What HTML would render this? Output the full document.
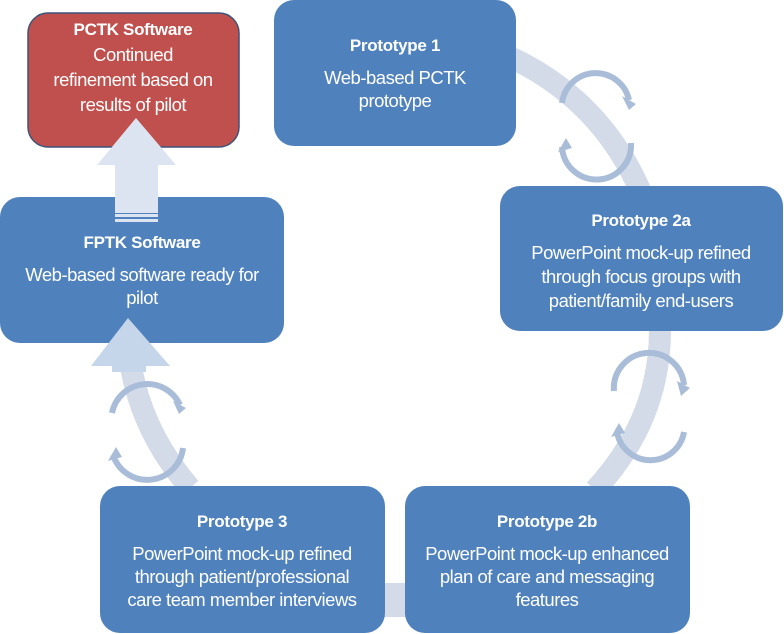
<!DOCTYPE html>
<html><head><style>
html,body{margin:0;padding:0;background:#fff;}
svg{display:block;}
text{font-family:"Liberation Sans",sans-serif;fill:#fff;text-anchor:middle;}
.t{font-weight:bold;font-size:17px;letter-spacing:-0.3px;}
.b{font-size:18.5px;letter-spacing:-0.5px;}
</style></head><body>
<svg width="784" height="634" viewBox="0 0 784 634">
<g fill="none" stroke="#d3dbe9" stroke-width="22">
<path d="M512 58 Q600 100 640 190"/>
<path d="M660 330 Q660 420 595 490"/>
<path d="M190 488 Q140 430 130 360"/>
</g>
<rect x="384" y="583" width="22" height="34" fill="#d3dbe9"/>
<g fill="none" stroke="#a9bdd9" stroke-width="6">
<path d="M562 103 A34 34 0 0 1 629 100"/>
<path d="M631 143 A34 34 0 0 1 562 147"/>
<path d="M614 391 A34 34 0 0 1 684 385"/>
<path d="M684 432 A34 34 0 0 1 617 432"/>
<path d="M112 413 A36 36 0 0 1 180 405"/>
<path d="M183 448 A36 36 0 0 1 113 455"/>
</g>
<g fill="#a9bdd9">
<polygon points="622,96 636,104 629,110"/>
<polygon points="558,152 566,138 572,148"/>
<polygon points="677,381 690,388 681,396"/>
<polygon points="611,437 619,423 625,433"/>
<polygon points="173,401 186,408 179,414"/>
<polygon points="108,461 116,447 122,457"/>
</g>
<rect x="28" y="13" width="211" height="134" rx="20" fill="#c0504d" stroke="#3e5479" stroke-width="1.5"/>
<rect x="274" y="0" width="242" height="146" rx="20" fill="#4f81bd"/>
<rect x="500" y="186" width="283" height="145" rx="20" fill="#4f81bd"/>
<rect x="0" y="197" width="284" height="146" rx="20" fill="#4f81bd"/>
<rect x="100" y="486" width="285" height="147" rx="20" fill="#4f81bd"/>
<rect x="405" y="486" width="285" height="147" rx="20" fill="#4f81bd"/>
<!-- up arrow drawn on top -->
<polygon points="136,118 97,165 115,165 115,213 158,213 158,165 176,165" fill="#dbe4f0"/>
<rect x="115" y="214" width="43" height="3" fill="#dbe4f0"/>
<rect x="115" y="219" width="43" height="3" fill="#dbe4f0"/>
<!-- left arrow head on top of FPTK box -->
<polygon points="128,318 91,366 112,366 112,372 146,372 146,366 170,366" fill="#c5d5ea"/>
<text class="t" x="133" y="35">PCTK Software</text>
<text class="b" x="133" y="61">Continued</text>
<text class="b" x="133" y="86">refinement based on</text>
<text class="b" x="133" y="111">results of pilot</text>

<text class="t" x="395" y="51">Prototype 1</text>
<text class="b" x="395" y="84">Web-based PCTK</text>
<text class="b" x="395" y="107">prototype</text>

<text class="t" x="641" y="226">Prototype 2a</text>
<text class="b" x="641" y="259">PowerPoint mock-up refined</text>
<text class="b" x="641" y="283">through focus groups with</text>
<text class="b" x="641" y="307">patient/family end-users</text>

<text class="t" x="142" y="248">FPTK Software</text>
<text class="b" x="142" y="281">Web-based software ready for</text>
<text class="b" x="142" y="304">pilot</text>

<text class="t" x="242" y="527">Prototype 3</text>
<text class="b" x="242" y="560">PowerPoint mock-up refined</text>
<text class="b" x="242" y="583">through patient/professional</text>
<text class="b" x="242" y="606">care team member interviews</text>

<text class="t" x="547" y="527">Prototype 2b</text>
<text class="b" x="547" y="560">PowerPoint mock-up enhanced</text>
<text class="b" x="547" y="583">plan of care and messaging</text>
<text class="b" x="547" y="606">features</text>
</svg>
</body></html>
